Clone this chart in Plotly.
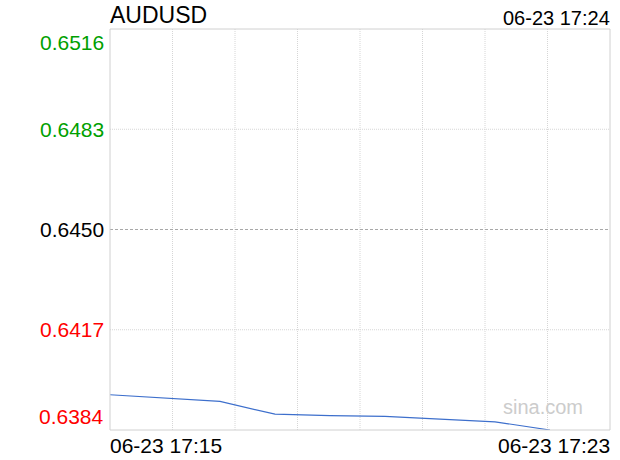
import datetime as dt
import plotly.graph_objects as go

symbol = "AUDUSD"
stamp = "06-23 17:24"
times = ["2023-06-23 17:15", "2023-06-23 17:16", "2023-06-23 17:17", "2023-06-23 17:18",
         "2023-06-23 17:19", "2023-06-23 17:20", "2023-06-23 17:21", "2023-06-23 17:22",
         "2023-06-23 17:23"]
prices = [0.63956, 0.63945, 0.63934, 0.63892, 0.63887, 0.63885, 0.63877, 0.63867, 0.63840]
y_ticks = [0.6516, 0.6483, 0.6450, 0.6417, 0.6384]
y_tick_labels = ["0.6516", "0.6483", "0.6450", "0.6417", "0.6384"]
prev_close = 0.6450
x_labels = ["06-23 17:15", "06-23 17:23"]

FONT = "Liberation Sans, Arial, sans-serif"
t0 = dt.datetime.strptime(times[0], "%Y-%m-%d %H:%M")
t_end = t0 + dt.timedelta(minutes=500 / 55)

fig = go.Figure()
fig.add_trace(go.Scatter(x=times, y=prices, mode="lines",
                         line=dict(color="#3d6fcc", width=1.2), hoverinfo="skip"))

shapes = []
# vertical dotted grid (8 columns)
for i in range(1, 8):
    shapes.append(dict(type="line", xref="paper", yref="paper", x0=i / 8, x1=i / 8, y0=0, y1=1,
                       line=dict(color="#d6d6d6", width=1, dash="1px,1px"), layer="below"))
for v in y_ticks[1:-1]:
    if v == prev_close:
        shapes.append(dict(type="line", xref="paper", yref="y", x0=0, x1=1, y0=v, y1=v,
                           line=dict(color="#a8a8a8", width=1, dash="3px,2px"), layer="below"))
    else:
        shapes.append(dict(type="line", xref="paper", yref="y", x0=0, x1=1, y0=v, y1=v,
                           line=dict(color="#d6d6d6", width=1, dash="1px,1px"), layer="below"))
shapes.append(dict(type="rect", xref="paper", yref="paper", x0=0, x1=1, y0=0, y1=1,
                   line=dict(color="#d0d0d0", width=1), layer="above"))

ann = []
n = len(y_ticks)
for i, (v, lab) in enumerate(zip(y_ticks, y_tick_labels)):
    color = "#00a000" if v > prev_close else ("#000000" if v == prev_close else "#ff0000")
    yanchor = "top" if i == 0 else ("bottom" if i == n - 1 else "middle")
    ann.append(dict(xref="paper", yref="y", x=0, y=v, text=lab, showarrow=False,
                    xanchor="right", yanchor=yanchor, xshift=-4,
                    font=dict(family=FONT, size=21, color=color)))
ann.append(dict(xref="paper", yref="paper", x=0, y=0, text=x_labels[0], showarrow=False,
                xanchor="left", yanchor="top", yshift=-2, xshift=-2,
                font=dict(family=FONT, size=21, color="#000000")))
ann.append(dict(xref="paper", yref="paper", x=1, y=0, text=x_labels[1], showarrow=False,
                xanchor="right", yanchor="top", yshift=-2, xshift=2,
                font=dict(family=FONT, size=21, color="#000000")))
ann.append(dict(xref="paper", yref="paper", x=0, y=1, text=symbol, showarrow=False,
                xanchor="left", yanchor="bottom", xshift=-2, yshift=-1,
                font=dict(family=FONT, size=23, color="#000000")))
ann.append(dict(xref="paper", yref="paper", x=1, y=1, text=stamp, showarrow=False,
                xanchor="right", yanchor="bottom", xshift=2, yshift=-2,
                font=dict(family=FONT, size=20, color="#000000")))
ann.append(dict(xref="paper", yref="paper", x=0.95, y=0.025, text="sina.com", showarrow=False,
                xanchor="right", yanchor="bottom",
                font=dict(family=FONT, size=20, color="#cccccc")))

fig.update_layout(
    width=620, height=460,
    margin=dict(l=110, r=10, t=29, b=30),
    paper_bgcolor="white", plot_bgcolor="white",
    showlegend=False,
    xaxis=dict(range=[t0, t_end], showgrid=False, showticklabels=False, zeroline=False,
               showline=False, ticks=""),
    yaxis=dict(range=[y_ticks[-1], y_ticks[0]], showgrid=False, showticklabels=False,
               zeroline=False, showline=False, ticks=""),
    shapes=shapes, annotations=ann,
)
fig.write_html("out.html", config={"displayModeBar": False},
               post_script="document.body.style.margin='0px';")
